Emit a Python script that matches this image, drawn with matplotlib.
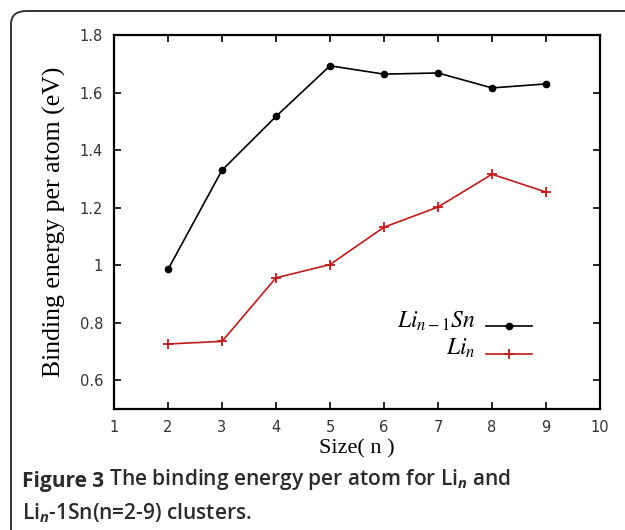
import matplotlib.pyplot as plt
from matplotlib.patches import FancyBboxPatch

plt.rcParams['mathtext.fontset'] = 'custom'
plt.rcParams['mathtext.it'] = 'Open Sans:italic:bold'
plt.rcParams['mathtext.rm'] = 'Open Sans:bold'

size = [2, 3, 4, 5, 6, 7, 8, 9]
li_sn = [0.985, 1.330, 1.517, 1.693, 1.664, 1.668, 1.616, 1.630]
li = [0.726, 0.735, 0.956, 1.002, 1.132, 1.202, 1.316, 1.254]
xticks = list(range(1, 11))
yticks = [0.6, 0.8, 1.0, 1.2, 1.4, 1.6, 1.8]
ytick_labels = ['0.6', '0.8', '1', '1.2', '1.4', '1.6', '1.8']

fig = plt.figure(figsize=(6.25, 5.3), dpi=100)

# rounded frame around the figure
frame = FancyBboxPatch((11 / 625, -0.2), 1.2, 1.2 - 11 / 530,
                       boxstyle='round,pad=0,rounding_size=0.025',
                       transform=fig.transFigure, fill=False,
                       edgecolor='#333333', linewidth=1.4)
fig.patches.append(frame)

ax = fig.add_axes([114 / 625, 1 - 409 / 530, 486 / 625, 374 / 530])

ax.plot(size, li_sn, color='black', lw=1.2, marker='o', ms=4.5)
ax.plot(size, li, color='#c41a1a', lw=1.2, marker='+', ms=7, mew=1.3)

ax.set_xlim(1, 10)
ax.set_ylim(0.5, 1.8)
ax.set_xticks(xticks)
ax.set_yticks(yticks)
ax.set_yticklabels(ytick_labels)
ax.tick_params(direction='in', top=True, right=True, length=5, width=1.2,
               labelsize=10.5, labelcolor='#333333', pad=8)
for s in ax.spines.values():
    s.set_linewidth(1.6)

ax.set_ylabel('Binding energy per atom (eV)', family='Liberation Serif',
              fontsize=18.5, labelpad=10)
ax.set_xlabel('Size( n )', family='Liberation Serif', fontsize=16, labelpad=3)

# legend drawn by hand so text sits right aligned like gnuplot
ax.text(0.745, 0.234, r'$Li_{n-1}Sn$', transform=ax.transAxes, ha='right',
        va='center', fontsize=17, math_fontfamily='stix')
ax.text(0.745, 0.164, r'$Li_n$', transform=ax.transAxes, ha='right',
        va='center', fontsize=17, math_fontfamily='stix')
ax.plot([0.765, 0.86], [0.222, 0.222], transform=ax.transAxes, color='black',
        lw=1.2)
ax.plot([0.8125], [0.222], transform=ax.transAxes, color='black', marker='o',
        ms=4.5)
ax.plot([0.765, 0.86], [0.147, 0.147], transform=ax.transAxes,
        color='#c41a1a', lw=1.2)
ax.plot([0.8125], [0.147], transform=ax.transAxes, color='#c41a1a',
        marker='+', ms=7, mew=1.3)

# caption
t1 = fig.text(22 / 625, 1 - 487 / 530, 'Figure 3', family='Open Sans',
              weight='bold', fontsize=15, color='#2b2b2b', va='baseline')
fig.canvas.draw()
ax.annotate(' The binding energy per atom for Li$_n$ and', xy=(1, 0),
            xycoords=t1, va='bottom', ha='left', family='Open Sans',
            weight='semibold', fontsize=15, color='#2b2b2b',
            annotation_clip=False)
fig.text(22 / 625, 1 - 519 / 530, 'Li$_n$-1Sn(n=2-9) clusters.',
         family='Open Sans', weight='semibold', fontsize=15,
         color='#2b2b2b', va='baseline')

fig.savefig('out.png', dpi=100)
